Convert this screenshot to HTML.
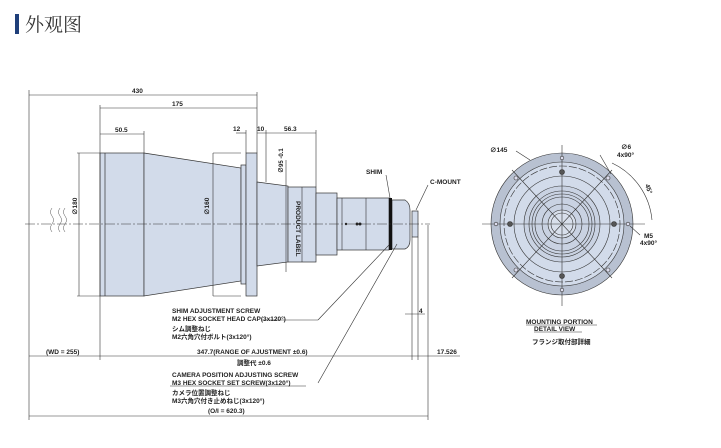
<!DOCTYPE html>
<html><head><meta charset="utf-8"><style>
html,body{margin:0;padding:0;background:#fff;width:721px;height:448px;overflow:hidden}
svg{display:block}
text{font-family:"Liberation Sans","Noto Sans CJK JP",sans-serif;font-weight:bold;fill:#222}
</style></head><body>
<svg width="721" height="448" viewBox="0 0 721 448" xmlns="http://www.w3.org/2000/svg">
<rect x="15" y="14" width="4" height="20" fill="#1f3f7a"/>
<text x="25" y="31" style="font-family:'Noto Serif CJK SC','Noto Sans CJK SC',serif;font-weight:normal;font-size:19px;fill:#333">外观图</text>

<g stroke="#333" stroke-width="0.7" fill="#d2dbea">
<rect x="100" y="153" width="44" height="143"/>
<line x1="105" y1="153" x2="105" y2="296"/>
<polygon points="144,153 241,168 241,281 144,296"/>
<rect x="241" y="165" width="5" height="119"/>
<rect x="246" y="153" width="11" height="143"/>
<polygon points="257,182 288,186 288,262 257,266"/>
<rect x="288" y="187" width="28" height="75"/>
<rect x="316" y="193" width="21" height="62"/>
<rect x="337" y="198" width="52" height="52"/>
<path d="M392,200 H405 Q410,203 410,210 V240 Q410,247 405,249 H392 Z"/>
<rect x="412" y="211" width="6" height="26"/>
</g>
<g stroke="#333" stroke-width="0.6" fill="none">
<line x1="213" y1="153" x2="213" y2="296"/>
<line x1="213" y1="153" x2="241" y2="153"/><line x1="213" y1="296" x2="241" y2="296"/>
<line x1="302" y1="187" x2="302" y2="262"/>
<line x1="366" y1="198" x2="366" y2="250"/>
<line x1="342" y1="198" x2="342" y2="250"/>
</g>
<rect x="389" y="198" width="3" height="52" fill="#111"/>
<circle cx="346" cy="224" r="1.2" fill="#222"/><circle cx="357" cy="224" r="1.5" fill="#222"/><circle cx="360" cy="224" r="1.5" fill="#222"/>
<text x="296" y="201" font-size="6.5" transform="rotate(90 296 201)">PRODUCT LABEL</text>
<text x="77" y="215" font-size="6.5" transform="rotate(-90 77 215)">∅180</text>
<text x="209" y="215" font-size="6.5" transform="rotate(-90 209 215)">∅160</text>
<text x="283" y="173" font-size="6" transform="rotate(-90 283 173)">∅95 -0.1</text>

<line x1="25" y1="224" x2="430" y2="224" stroke="#333" stroke-width="0.5" stroke-dasharray="10,2,2,2"/>
<path d="M52,208 q-3,4 0,8 q3,4 0,8 q-3,4 0,8 M60,208 q-3,4 0,8 q3,4 0,8 q-3,4 0,8 M65,208 q-3,4 0,8 q3,4 0,8 q-3,4 0,8" stroke="#555" stroke-width="0.5" fill="none"/>

<g stroke="#333" stroke-width="0.6" fill="none">
<line x1="29" y1="90" x2="29" y2="420"/>
<line x1="29" y1="95" x2="257" y2="95"/>
<line x1="257" y1="92" x2="257" y2="153"/>
<line x1="100" y1="105" x2="100" y2="360"/>
<line x1="100" y1="108" x2="257" y2="108"/>
<line x1="100" y1="134" x2="144" y2="134"/>
<line x1="144" y1="131" x2="144" y2="153"/>
<line x1="246" y1="130" x2="246" y2="153"/>
<line x1="266" y1="130" x2="266" y2="182"/>
<line x1="236" y1="133" x2="246" y2="133"/><line x1="257" y1="133" x2="316" y2="133"/>
<line x1="316" y1="130" x2="316" y2="187"/>
<line x1="77" y1="153" x2="100" y2="153"/><line x1="77" y1="296" x2="100" y2="296"/>
<line x1="79" y1="153" x2="79" y2="296"/>
<line x1="286" y1="160" x2="286" y2="272"/>
<line x1="412" y1="237" x2="412" y2="360"/>
<line x1="418" y1="237" x2="418" y2="360"/>
<line x1="428" y1="225" x2="428" y2="420"/>
<line x1="29" y1="356" x2="460" y2="356"/>
<line x1="29" y1="416" x2="428" y2="416"/>
<line x1="405" y1="314" x2="425" y2="314"/>
<line x1="318" y1="320" x2="389" y2="245"/>
<line x1="262" y1="320" x2="318" y2="320"/>
<line x1="318" y1="383" x2="397" y2="244"/>
<line x1="170" y1="386" x2="306" y2="386"/>
<line x1="386" y1="175" x2="390" y2="198"/>
<line x1="428" y1="185" x2="416" y2="210"/>
</g>
<g font-size="6.5">
<text x="132" y="93">430</text>
<text x="172" y="106">175</text>
<text x="115" y="132">50.5</text>
<text x="233" y="131">12</text>
<text x="257" y="131">10</text>
<text x="284" y="131">56.3</text>
<text x="366" y="174">SHIM</text>
<text x="430" y="184">C-MOUNT</text>
<text x="172" y="313">SHIM ADJUSTMENT SCREW</text>
<text x="172" y="321">M2 HEX SOCKET HEAD CAP(3x120°)</text>
<text x="172" y="331">シム調整ねじ</text>
<text x="172" y="339">M2六角穴付ボルト(3x120°)</text>
<text x="46" y="354">(WD = 255)</text>
<text x="197" y="354">347.7(RANGE OF AJUSTMENT ±0.6)</text>
<text x="237" y="365">調整代 ±0.6</text>
<text x="437" y="354">17.526</text>
<text x="419" y="313">4</text>
<text x="172" y="377">CAMERA POSITION ADJUSTING SCREW</text>
<text x="172" y="385">M3 HEX SOCKET SET SCREW(3x120°)</text>
<text x="172" y="395">カメラ位置調整ねじ</text>
<text x="172" y="403">M3六角穴付き止めねじ(3x120°)</text>
<text x="208" y="413">(O/I = 620.3)</text>
</g>

<g stroke="#333" stroke-width="0.6">
<circle cx="562" cy="224" r="71" fill="#b8c1d1"/>
<circle cx="562" cy="224" r="62" fill="#d2dbea"/>
<circle cx="562" cy="224" r="58" fill="none" stroke-dasharray="8,2"/>
<circle cx="562" cy="224" r="48" fill="none"/>
<circle cx="562" cy="224" r="38" fill="#c9d2e2"/>
<circle cx="562" cy="224" r="33" fill="none"/>
<circle cx="562" cy="224" r="30" fill="none"/>
<circle cx="562" cy="224" r="27" fill="none"/>
<circle cx="562" cy="224" r="20" fill="none"/>
<circle cx="562" cy="224" r="14" fill="#d8dfeb"/>
<circle cx="562" cy="224" r="11" fill="none"/>
<line x1="482" y1="224" x2="645" y2="224"/>
<line x1="562" y1="145" x2="562" y2="306"/>
<line x1="512" y1="170" x2="612" y2="278"/>
<line x1="612" y1="170" x2="512" y2="278"/>
<g fill="#555"><circle cx="562" cy="172" r="2.5"/><circle cx="562" cy="276" r="2.5"/><circle cx="510" cy="224" r="2.5"/><circle cx="614" cy="224" r="2.5"/></g>
<g fill="#dde"><circle cx="562" cy="158" r="1.8"/><circle cx="562" cy="290" r="1.8"/><circle cx="496" cy="224" r="1.8"/><circle cx="628" cy="224" r="1.8"/>
<circle cx="516" cy="178" r="2"/><circle cx="608" cy="178" r="2"/><circle cx="516" cy="270" r="2"/><circle cx="608" cy="270" r="2"/></g>
<path d="M612,163 A70,70 0 0 1 652,220" fill="none"/>
<line x1="516" y1="151" x2="530" y2="160"/>
<line x1="600" y1="155" x2="611" y2="174"/>
<line x1="630" y1="226" x2="640" y2="235"/>
</g>
<g font-size="6.5">
<text x="490" y="152">∅145</text>
<text x="621" y="149">∅6</text>
<text x="617" y="157">4x90°</text>
<text x="645" y="185" transform="rotate(70 645 185)">45°</text>
<text x="644" y="238">M5</text>
<text x="640" y="245">4x90°</text>
<text x="526" y="324">MOUNTING PORTION</text>
<text x="534" y="331">DETAIL VIEW</text>
<text x="532" y="344">フランジ取付部詳細</text>
</g>
<line x1="526" y1="325" x2="597" y2="325" stroke="#333" stroke-width="0.5"/>
<line x1="534" y1="332" x2="582" y2="332" stroke="#333" stroke-width="0.5"/>
</svg>
</body></html>
